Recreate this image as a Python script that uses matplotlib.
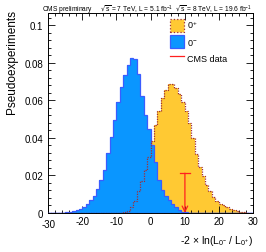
import numpy as np
import matplotlib
matplotlib.use("Agg")
import matplotlib.pyplot as plt
from matplotlib.patches import Patch
from matplotlib.lines import Line2D
from matplotlib.ticker import MultipleLocator, FuncFormatter

plt.rcParams['font.family'] = ['Liberation Sans', 'DejaVu Sans']
plt.rcParams['mathtext.default'] = 'regular'

# bin edges of the test statistic, width 1
edges = np.arange(-30, 31, 1)

# 0- hypothesis (bins -30..30)
minus_vals = [0, 0, 0.0001, 0.0001, 0.0002, 0.0003, 0.0005, 0.0009, 0.0014, 0.0022,
              0.0032, 0.0047, 0.0067, 0.0093, 0.0130, 0.0175, 0.0230, 0.0320, 0.0405, 0.0495,
              0.0590, 0.0670, 0.0735, 0.0790, 0.0825, 0.0820, 0.0740, 0.0625, 0.0520, 0.0445,
              0.0360, 0.0270, 0.0178, 0.0125, 0.0090, 0.0068, 0.0050, 0.0030, 0.0015, 0.0006,
              0.0003, 0.0001, 0, 0, 0, 0, 0, 0, 0, 0,
              0, 0, 0, 0, 0, 0, 0, 0, 0, 0]

# 0+ hypothesis
plus_vals = [0, 0, 0, 0, 0, 0, 0, 0, 0, 0,
             0, 0, 0, 0, 0, 0, 0, 0, 0, 0,
             0.0001, 0.0002, 0.0005, 0.0012, 0.0030, 0.0065, 0.0115, 0.0170, 0.0230, 0.0300,
             0.0385, 0.0470, 0.0545, 0.0610, 0.0655, 0.0685, 0.0685, 0.0665, 0.0635, 0.0590,
             0.0545, 0.0480, 0.0400, 0.0315, 0.0245, 0.0195, 0.0150, 0.0115, 0.0085, 0.0065,
             0.0050, 0.0040, 0.0030, 0.0022, 0.0015, 0.0010, 0.0006, 0.0004, 0.0002, 0.0001]

observed = 10.1
arrow_top = 0.0212

fig = plt.figure(figsize=(2.66, 2.53), dpi=100)
ax = fig.add_axes([0.1816, 0.1542, 0.7684, 0.7905])

yellow = '#ffc933'
blue = '#0a96ff'
blue_edge = '#3a5cff'
dark_red = '#9e2f3a'

ax.stairs(plus_vals, edges, fill=True, color=yellow, zorder=1)
ax.stairs(minus_vals, edges, fill=True, color=blue, zorder=2)
ax.stairs(minus_vals, edges, color=blue_edge, lw=0.9, zorder=3)
ax.stairs(plus_vals, edges, color=dark_red, lw=0.9, ls=(0, (1, 1)), zorder=4)
ax.plot([edges[0], edges[-1]], [0, 0], color=blue_edge, lw=1.0, zorder=3)

# observed value
ax.plot([observed - 1.5, observed + 1.5], [arrow_top, arrow_top], color='#ff2020', lw=0.9, zorder=5)
ax.annotate('', xy=(observed, 0), xytext=(observed, arrow_top),
            arrowprops=dict(arrowstyle='->', color='#ff2020', lw=0.9,
                            mutation_scale=10, shrinkA=0, shrinkB=0), zorder=5)

ax.set_xlim(-30, 30)
ax.set_ylim(0, 0.1065)
ax.xaxis.set_major_locator(MultipleLocator(10))
ax.xaxis.set_minor_locator(MultipleLocator(2))
ax.yaxis.set_major_locator(MultipleLocator(0.02))
ax.yaxis.set_minor_locator(MultipleLocator(0.004))
ax.yaxis.set_major_formatter(FuncFormatter(lambda v, p: '%g' % round(v, 3)))
# the -30 label is drawn by hand a little lower, as ROOT does
ax.xaxis.set_major_formatter(FuncFormatter(lambda v, p: '' if v <= -30 else '%g' % v))
ax.annotate('-30', xy=(-30, 0), xytext=(0, -4.5), textcoords='offset points',
            ha='center', va='top', fontsize=7)
ax.tick_params(which='both', direction='in', top=True, right=True, labelsize=7, width=0.6)
ax.tick_params(which='major', length=5)
ax.tick_params(which='minor', length=2.5)
ax.tick_params(axis='x', pad=2)
for s in ax.spines.values():
    s.set_linewidth(0.7)

ax.set_ylabel('Pseudoexperiments', fontsize=8.5)
ax.yaxis.set_label_coords(-0.15, 0.76)
ax.set_xlabel('-2 × ln(L$_{0^{-}}$ / L$_{0^{+}}$)', fontsize=7.5, loc='right', labelpad=5)

fig.text(0.553, 0.984, 'CMS preliminary     $\\sqrt{s}$ = 7 TeV, L = 5.1 fb$^{-1}$  $\\sqrt{s}$ = 8 TeV, L = 19.6 fb$^{-1}$',
         fontsize=4.8, ha='center', va='top')

handles = [Patch(facecolor=yellow, edgecolor=dark_red, linestyle=':', linewidth=0.9),
           Patch(facecolor=blue, edgecolor=blue_edge, linewidth=0.9),
           Line2D([], [], color='#ff2020', lw=0.9)]
ax.legend(handles, ['0$^{+}$', '0$^{-}$', 'CMS data'], loc='upper left',
          bbox_to_anchor=(0.58, 0.99), frameon=False, fontsize=6.5,
          handlelength=1.5, handleheight=1.8, handletextpad=0.3, labelspacing=0.4,
          borderaxespad=0)

fig.savefig('out.png', dpi=100)
